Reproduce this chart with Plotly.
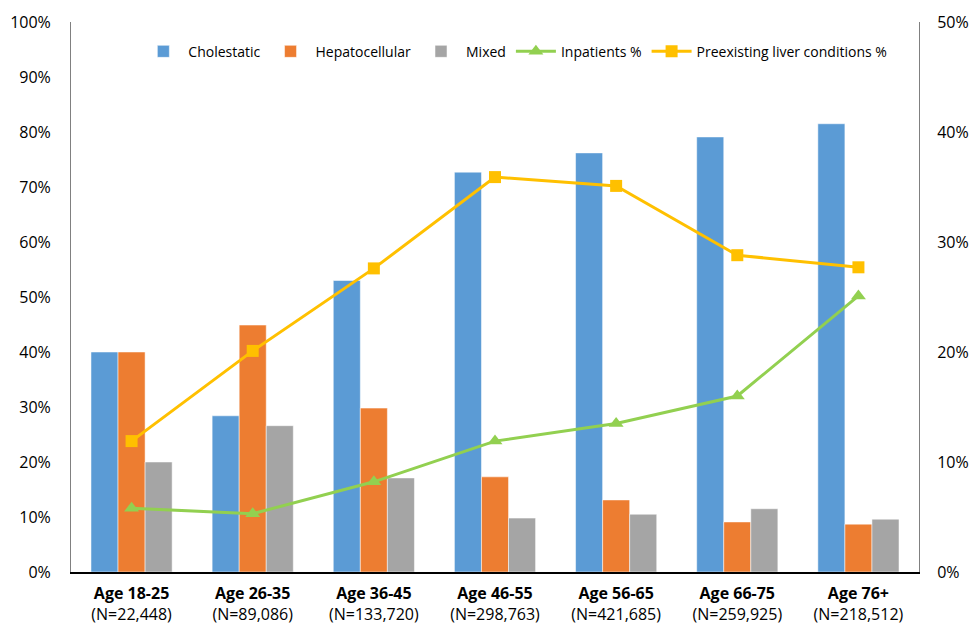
import plotly.graph_objects as go

categories = ["Age 18-25", "Age 26-35", "Age 36-45", "Age 46-55", "Age 56-65", "Age 66-75", "Age 76+"]
counts = ["22,448", "89,086", "133,720", "298,763", "421,685", "259,925", "218,512"]
cholestatic = [40.0, 28.4, 53.0, 72.7, 76.2, 79.1, 81.5]
hepatocellular = [40.0, 44.9, 29.8, 17.3, 13.1, 9.1, 8.7]
mixed = [20.0, 26.6, 17.1, 9.8, 10.5, 11.5, 9.6]
inpatients = [5.8, 5.3, 8.2, 11.9, 13.5, 16.0, 25.1]
preexisting = [11.9, 20.1, 27.6, 35.9, 35.1, 28.8, 27.7]

left_ticks = [0, 10, 20, 30, 40, 50, 60, 70, 80, 90, 100]
right_ticks = [0, 10, 20, 30, 40, 50]

ticktext = [f"<b>{c}</b><br>(N={n})" for c, n in zip(categories, counts)]
font_family = "Open Sans, Liberation Sans, sans-serif"

fig = go.Figure()
for name, vals, col in [("Cholestatic", cholestatic, "#5B9BD5"),
                        ("Hepatocellular", hepatocellular, "#ED7D31"),
                        ("Mixed", mixed, "#A5A5A5")]:
    fig.add_trace(go.Bar(x=categories, y=vals, name=name,
                         marker=dict(color=col, line=dict(color="rgba(255,255,255,0.5)", width=1))))

fig.add_trace(go.Scatter(x=categories, y=inpatients, name="Inpatients %", yaxis="y2",
                         mode="lines+markers",
                         line=dict(color="#92D050", width=3),
                         marker=dict(symbol="triangle-up", size=13, color="#92D050")))
fig.add_trace(go.Scatter(x=categories, y=preexisting, name="Preexisting liver conditions %", yaxis="y2",
                         mode="lines+markers",
                         line=dict(color="#FFC000", width=3),
                         marker=dict(symbol="square", size=12, color="#FFC000")))

fig.update_layout(
    width=971, height=628,
    margin=dict(l=71, r=52, t=22, b=56, autoexpand=False),
    plot_bgcolor="white", paper_bgcolor="white",
    barmode="group", bargap=0.33, bargroupgap=0,
    font=dict(family=font_family, size=15, color="#000000"),
    xaxis=dict(tickmode="array", tickvals=categories, ticktext=ticktext,
               showline=True, linecolor="#000000", linewidth=1.5, automargin=False,
               ticks="", showgrid=False, tickfont=dict(size=16), ticklabelstandoff=6),
    yaxis=dict(range=[0, 100], tickvals=left_ticks, ticktext=[f"{v}%" for v in left_ticks],
               showline=True, linecolor="#808080", linewidth=1, showgrid=False, ticks="",
               automargin=False,
               zeroline=False, tickfont=dict(size=16), ticklabelstandoff=16),
    yaxis2=dict(range=[0, 50], tickvals=right_ticks, ticktext=[f"{v}%" for v in right_ticks],
                overlaying="y", side="right", automargin=False,
                showline=True, linecolor="#808080", linewidth=1, showgrid=False, ticks="",
                zeroline=False, tickfont=dict(size=16), ticklabelstandoff=14),
    legend=dict(orientation="h", x=0.524, xanchor="center", y=0.975, yanchor="top",
                font=dict(size=14), bgcolor="rgba(255,255,255,0)",
                traceorder="normal", itemwidth=40),
)

fig.write_html("out.html")
